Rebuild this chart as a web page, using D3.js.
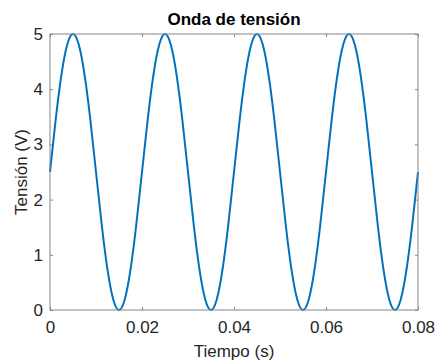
<!DOCTYPE html>
<html>
<head>
<meta charset="utf-8">
<script src="https://cdn.jsdelivr.net/npm/d3@7"></script>
<style>
  body { margin: 0; background: #fff; }
  svg { font-family: "Liberation Sans", Arial, Helvetica, sans-serif; }
</style>
</head>
<body>
<svg id="chart" width="436" height="362"></svg>
<script>
// valores (muestras cada 0.00125 s, de 0 a 0.08 s)
const tiempo = d3.range(65).map(i => +(i * 0.00125).toFixed(5));
const tension = [
  2.5, 3.46, 4.27, 4.81, 5, 4.81, 4.27, 3.46, 2.5, 1.54, 0.73, 0.19, 0, 0.19, 0.73, 1.54,
  2.5, 3.46, 4.27, 4.81, 5, 4.81, 4.27, 3.46, 2.5, 1.54, 0.73, 0.19, 0, 0.19, 0.73, 1.54,
  2.5, 3.46, 4.27, 4.81, 5, 4.81, 4.27, 3.46, 2.5, 1.54, 0.73, 0.19, 0, 0.19, 0.73, 1.54,
  2.5, 3.46, 4.27, 4.81, 5, 4.81, 4.27, 3.46, 2.5, 1.54, 0.73, 0.19, 0, 0.19, 0.73, 1.54,
  2.5];
const xTicks = [0, 0.02, 0.04, 0.06, 0.08];
const yTicks = [0, 1, 2, 3, 4, 5];

const margin = { left: 50, right: 18, top: 34, bottom: 52 };
const width = 436, height = 362;
const svg = d3.select("#chart");

const x = d3.scaleLinear().domain([0, 0.08]).range([margin.left, width - margin.right]);
const y = d3.scaleLinear().domain([0, 5]).range([height - margin.bottom, margin.top]);

const axisColor = "#858585";
const textColor = "#262626";
const tickLen = 3;

// ejes con ticks hacia dentro
function styleAxis(g) {
  g.select(".domain").remove();
  g.selectAll(".tick line").attr("stroke", axisColor);
  g.selectAll(".tick text").attr("fill", textColor).style("font-size", "17px");
}

svg.append("g")
  .attr("transform", `translate(0,${y(0)})`)
  .call(d3.axisBottom(x).tickValues(xTicks).tickSizeInner(-tickLen).tickSizeOuter(0).tickPadding(11)
    .tickFormat(d => d === 0 ? "0" : d3.format(".2f")(d)))
  .call(styleAxis);

svg.append("g")
  .attr("transform", `translate(0,${y(5)})`)
  .call(d3.axisTop(x).tickValues(xTicks).tickSizeInner(-tickLen).tickSizeOuter(0).tickFormat(""))
  .call(styleAxis);

svg.append("g")
  .attr("transform", `translate(${x(0)},0)`)
  .call(d3.axisLeft(y).tickValues(yTicks).tickSizeInner(-tickLen).tickSizeOuter(0).tickPadding(7)
    .tickFormat(d3.format("d")))
  .call(styleAxis);

svg.append("g")
  .attr("transform", `translate(${x(0.08)},0)`)
  .call(d3.axisRight(y).tickValues(yTicks).tickSizeInner(-tickLen).tickSizeOuter(0).tickFormat(""))
  .call(styleAxis);

// curva
const line = d3.line()
  .x((d, i) => x(tiempo[i]))
  .y(d => y(d))
  .curve(d3.curveNatural);

svg.append("path")
  .datum(tension)
  .attr("fill", "none")
  .attr("stroke", "#0072BD")
  .attr("stroke-width", 2)
  .attr("d", line);

// marco
svg.append("rect")
  .attr("x", x(0))
  .attr("y", y(5))
  .attr("width", x(0.08) - x(0))
  .attr("height", y(0) - y(5))
  .attr("fill", "none")
  .attr("stroke", axisColor)
  .attr("stroke-width", 1);

// textos
svg.append("text")
  .attr("x", (x(0) + x(0.08)) / 2)
  .attr("y", 25)
  .attr("text-anchor", "middle")
  .attr("font-weight", "bold")
  .attr("fill", "#000")
  .style("font-size", "17px")
  .text("Onda de tensión");

svg.append("text")
  .attr("x", (x(0) + x(0.08)) / 2)
  .attr("y", 357)
  .attr("text-anchor", "middle")
  .attr("fill", textColor)
  .style("font-size", "17px")
  .text("Tiempo (s)");

svg.append("text")
  .attr("transform", `translate(27,${(y(0) + y(5)) / 2}) rotate(-90)`)
  .attr("text-anchor", "middle")
  .attr("fill", textColor)
  .style("font-size", "17px")
  .text("Tensión (V)");
</script>
</body>
</html>
